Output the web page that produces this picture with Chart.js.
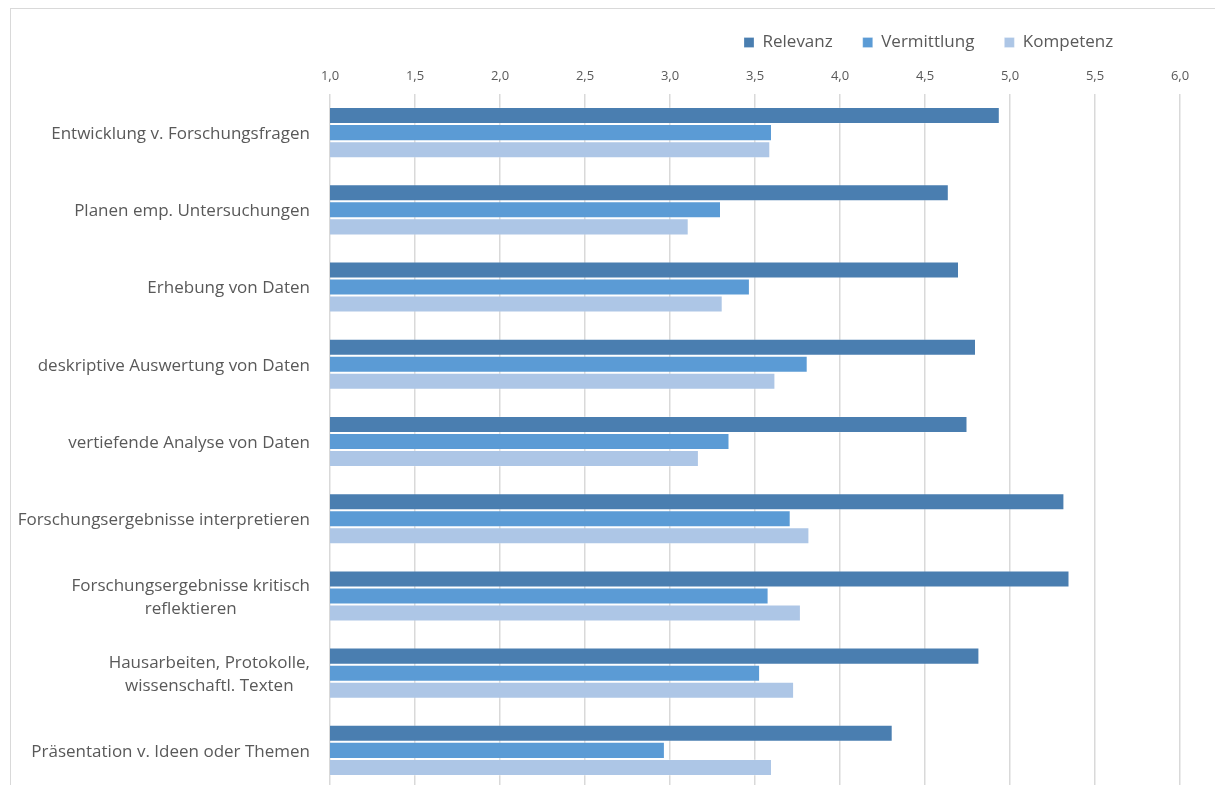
<!DOCTYPE html>
<html>
<head>
<meta charset="utf-8">
<script src="https://cdn.jsdelivr.net/npm/chart.js@4"></script>
<style>
  html, body { margin: 0; padding: 0; background: #fff; overflow: hidden; }
  #frame { position: absolute; left: 10px; top: 8px; width: 1400px; height: 1000px;
           border: 1px solid #d9d9d9; box-sizing: border-box; }
  #wrap { position: absolute; left: 0; top: 0; width: 1215px; height: 800px; }
</style>
</head>
<body>
<div id="frame"></div>
<div id="wrap"><canvas id="c"></canvas></div>
<script>
// Kompetenzbereiche (Kategorien); mehrzeilige Beschriftungen als Arrays
const categories = [
  'Entwicklung v. Forschungsfragen',
  'Planen emp. Untersuchungen',
  'Erhebung von Daten',
  'deskriptive Auswertung von Daten',
  'vertiefende Analyse von Daten',
  'Forschungsergebnisse interpretieren',
  ['Forschungsergebnisse kritisch', 'reflektieren'],
  ['Hausarbeiten, Protokolle,', 'wissenschaftl. Texten'],
  'Präsentation v. Ideen oder Themen'
];

// Mittelwerte je Kategorie
const relevanz     = [4.94, 4.64, 4.70, 4.80, 4.75, 5.32, 5.35, 4.82, 4.31];
const vermittlung  = [3.60, 3.30, 3.47, 3.81, 3.35, 3.71, 3.58, 3.53, 2.97];
const kompetenz    = [3.59, 3.11, 3.31, 3.62, 3.17, 3.82, 3.77, 3.73, 3.60];

const seriesNames = ['Relevanz', 'Vermittlung', 'Kompetenz'];

const FONT = '"Open Sans", "Noto Sans", sans-serif';
const TEXT = '#595959';

// Kategorienbeschriftung: Block rechtsbündig, Zeilen innerhalb des Blocks zentriert
const categoryLabels = {
  id: 'categoryLabels',
  afterDraw(chart) {
    const ctx = chart.ctx;
    const y = chart.scales.y;
    const right = chart.chartArea.left - 20;
    const lh = 23;
    ctx.save();
    ctx.font = '17px ' + FONT;
    ctx.fillStyle = TEXT;
    ctx.textAlign = 'center';
    ctx.textBaseline = 'middle';
    categories.forEach((lab, i) => {
      const lines = Array.isArray(lab) ? lab : [lab];
      const w = Math.max(...lines.map(l => ctx.measureText(l).width));
      const cx = right - w / 2;
      const cy = y.getPixelForTick(i) + 1.5;
      lines.forEach((l, k) => {
        ctx.fillText(l, cx, cy + (k - (lines.length - 1) / 2) * lh);
      });
    });
    ctx.restore();
  }
};

// Legende rechts oben über der Achse platzieren
const legendPlacement = {
  id: 'legendPlacement',
  afterLayout(chart) {
    const lg = chart.legend;
    if (lg) { lg.left = 714; }
  }
};

new Chart(document.getElementById('c'), {
  type: 'bar',
  data: {
    labels: categories,
    datasets: [
      { label: seriesNames[0], data: relevanz,    backgroundColor: '#4a7eb0' },
      { label: seriesNames[1], data: vermittlung, backgroundColor: '#5b9bd5' },
      { label: seriesNames[2], data: kompetenz,   backgroundColor: '#adc6e6' }
    ]
  },
  options: {
    indexAxis: 'y',
    responsive: true,
    maintainAspectRatio: false,
    animation: false,
    datasets: {
      bar: {
        categoryPercentage: 0.662,
        barPercentage: 1.0,
        borderWidth: 1,
        borderColor: 'rgba(255,255,255,0.25)',
        borderSkipped: false
      }
    },
    layout: { padding: { left: 0, right: 35, top: 4, bottom: 11 } },
    plugins: {
      legend: {
        position: 'top',
        align: 'start',
        labels: {
          font: { family: FONT, size: 17 },
          color: TEXT,
          boxWidth: 10,
          boxHeight: 10,
          padding: 30
        }
      },
      tooltip: { enabled: false }
    },
    scales: {
      x: {
        position: 'top',
        min: 1,
        max: 6,
        ticks: {
          stepSize: 0.5,
          padding: 10,
          color: TEXT,
          font: { family: FONT, size: 13 },
          callback: v => v.toFixed(1).replace('.', ',')
        },
        grid: { color: '#d9d9d9', lineWidth: 1.5, drawTicks: false },
        border: { display: false },
        afterFit(s) { s.height = 33; }
      },
      y: {
        ticks: { display: false },
        grid: { display: false },
        border: { display: false },
        afterFit(s) { s.width = 330; }
      }
    }
  },
  plugins: [categoryLabels, legendPlacement]
});
</script>
</body>
</html>
